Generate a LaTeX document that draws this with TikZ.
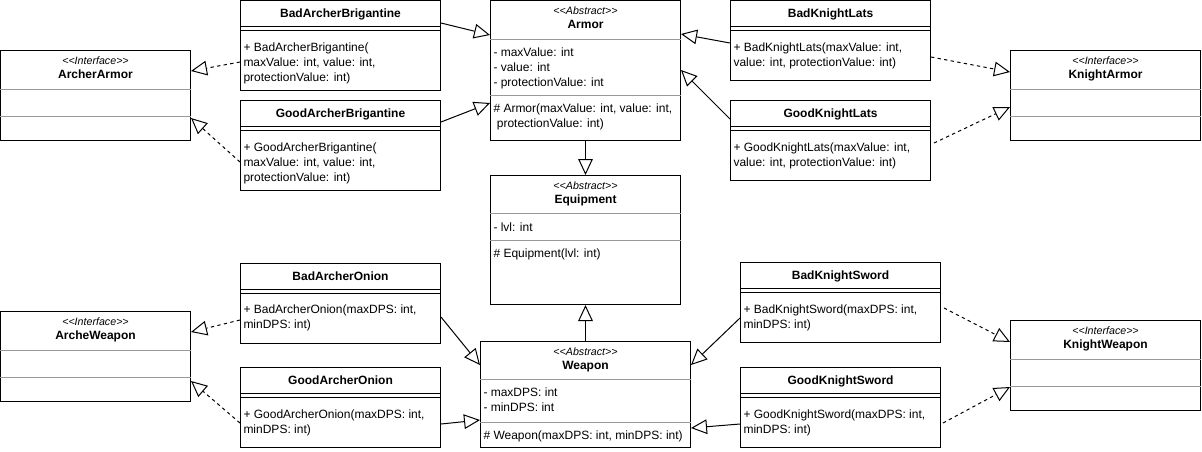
\documentclass[tikz,border=0pt]{standalone}
\usepackage{fontspec}
\setmainfont{Liberation Sans}
\usetikzlibrary{arrows.meta,calc}

\begin{document}
\begin{tikzpicture}[x=0.75pt, y=-0.75pt, line width=0.75pt,
  cls/.style = {draw, anchor=north west, inner sep=0pt, minimum width=150pt},
  ttl/.style = {inner sep=0pt, text height=6.5pt, text depth=0pt, font=\fontsize{9}{11.25}\selectfont\bfseries},
  ster/.style = {inner sep=0pt, text height=5.8pt, text depth=0pt, font=\fontsize{8}{10}\selectfont\itshape},
  mem/.style = {anchor=north west, inner sep=0pt, align=left, font=\fontsize{9}{11.25}\selectfont},
  divider/.style = {draw=black!40},
  inh/.style = {-{Triangle[open, length=12pt, width=11pt]}},
  real/.style = {inh, dash pattern=on 2.5pt off 2.5pt}
]
  \fill[white] (0,0) rectangle (1202,451);
  \useasboundingbox (0,0) rectangle (1202,451);

  % interfaces
  \foreach \n/\x/\y/\t in {ia/0/50/ArcherArmor, ka/1010/50/KnightArmor,
                           iw/0/311/ArcheWeapon, kw/1010/320/KnightWeapon} {
    \node[cls, minimum width=142.5pt, minimum height=67.5pt] (\n) at (\x,\y) {};
    \node[ster] (\n-s) at ($(\n.north)+(0,11)$) {<\kern0pt<Interface>\kern0pt>};
    \node[ttl] (\n-t) at ($(\n.north)+(0,24.5)$) {\t};
    \draw[divider] ($(\n.north west)+(0,39)$) -- ($(\n.north east)+(0,39)$);
    \draw[divider] ($(\n.north west)+(0,66)$) -- ($(\n.north east)+(0,66)$);
  }

  % concrete classes
  \foreach \n/\x/\y/\h/\t in {bab/240/0/90/BadArcherBrigantine, gab/240/100/90/GoodArcherBrigantine,
                              bkl/730/0/80/BadKnightLats, gkl/730/100/80/GoodKnightLats,
                              bao/240/263/80/BadArcherOnion, gao/240/367/80/GoodArcherOnion,
                              bks/740/262/80/BadKnightSword, gks/740/367/80/GoodKnightSword} {
    \node[cls, minimum height=\h*0.75pt] (\n) at (\x,\y) {};
    \node[ttl] (\n-t) at ($(\n.north)+(0,13)$) {\t};
    \draw ($(\n.north west)+(0,26)$) -- ($(\n.north east)+(0,26)$)
          ($(\n.north west)+(0,30)$) -- ($(\n.north east)+(0,30)$);
  }

  \node[mem] (bab-m) at ($(bab.north west)+(3,42)$) {+ BadArcherBrigantine(\\maxValue: int, value: int,\\protectionValue: int)};
  \node[mem] (gab-m) at ($(gab.north west)+(3,42)$) {+ GoodArcherBrigantine(\\maxValue: int, value: int,\\protectionValue: int)};
  \node[mem] (bkl-m) at ($(bkl.north west)+(3,42.5)$) {+ BadKnightLats(maxValue: int,\\value: int, protectionValue: int)};
  \node[mem] (gkl-m) at ($(gkl.north west)+(3,42.5)$) {+ GoodKnightLats(maxValue: int,\\value: int, protectionValue: int)};
  \node[mem] (bao-m) at ($(bao.north west)+(3,41.5)$) {+ BadArcherOnion(maxDPS: int,\\minDPS: int)};
  \node[mem] (gao-m) at ($(gao.north west)+(3,42.5)$) {+ GoodArcherOnion(maxDPS: int,\\minDPS: int)};
  \node[mem] (bks-m) at ($(bks.north west)+(3,42)$) {+ BadKnightSword(maxDPS: int,\\minDPS: int)};
  \node[mem] (gks-m) at ($(gks.north west)+(3,42.5)$) {+ GoodKnightSword(maxDPS: int,\\minDPS: int)};

  % abstract classes
  \node[cls, minimum width=142.5pt, minimum height=105pt] (armor) at (490,0) {};
  \node[ster] (armor-s) at ($(armor.north)+(0,11)$) {<\kern0pt<Abstract>\kern0pt>};
  \node[ttl] (armor-t) at ($(armor.north)+(0,24.5)$) {Armor};
  \draw[divider] ($(armor.north west)+(0,39)$) -- ($(armor.north east)+(0,39)$);
  \draw[divider] ($(armor.north west)+(0,95)$) -- ($(armor.north east)+(0,95)$);
  \node[mem] (armor-a) at ($(armor.north west)+(3,47.5)$) {- maxValue: int\\- value: int\\- protectionValue: int};
  \node[mem] (armor-o) at ($(armor.north west)+(3,103.5)$) {\# Armor(maxValue: int, value: int,\\\hspace*{2.5pt}protectionValue: int)};

  \node[cls, minimum width=142.5pt, minimum height=96.75pt] (equip) at (490,175) {};
  \node[ster] (equip-s) at ($(equip.north)+(0,10.5)$) {<\kern0pt<Abstract>\kern0pt>};
  \node[ttl] (equip-t) at ($(equip.north)+(0,24)$) {Equipment};
  \draw[divider] ($(equip.north west)+(0,38)$) -- ($(equip.north east)+(0,38)$);
  \draw[divider] ($(equip.north west)+(0,65)$) -- ($(equip.north east)+(0,65)$);
  \node[mem] (equip-a) at ($(equip.north west)+(3,47.5)$) {- lvl: int};
  \node[mem] (equip-o) at ($(equip.north west)+(3,73.5)$) {\# Equipment(lvl: int)};

  \node[cls, minimum width=157.5pt, minimum height=79.5pt] (weapon) at (480,341) {};
  \node[ster] (weapon-s) at ($(weapon.north)+(0,10.5)$) {<\kern0pt<Abstract>\kern0pt>};
  \node[ttl] (weapon-t) at ($(weapon.north)+(0,24)$) {Weapon};
  \draw[divider] ($(weapon.north west)+(0,38)$) -- ($(weapon.north east)+(0,38)$);
  \draw[divider] ($(weapon.north west)+(0,81)$) -- ($(weapon.north east)+(0,81)$);
  \node[mem] (weapon-a) at ($(weapon.north west)+(3,46.5)$) {- maxDPS: int\\- minDPS: int};
  \node[mem] (weapon-o) at ($(weapon.north west)+(3,89.5)$) {\# Weapon(maxDPS: int, minDPS: int)};

  % generalisation
  \draw[inh] ($(bab.north east)+(0,23)$) -- ($(armor.north west)+(0,35)$);
  \draw[inh] ($(gab.north east)+(0,22)$) -- ($(armor.north west)+(0,103)$);
  \draw[inh] ($(bkl.north west)+(0,43)$) -- ($(armor.north east)+(0,34)$);
  \draw[inh] ($(gkl.north west)+(0,19)$) -- ($(armor.north east)+(0,70)$);
  \draw[inh] (armor.south) -- (equip.north);
  \draw[inh] (weapon.north) -- (equip.south);
  \draw[inh] ($(bao.north east)+(0,54)$) -- ($(weapon.north west)+(0,24)$);
  \draw[inh] ($(gao.north east)+(0,57)$) -- ($(weapon.north west)+(0,79)$);
  \draw[inh] ($(bks.north west)+(0,56)$) -- ($(weapon.north east)+(0,24)$);
  \draw[inh] ($(gks.north west)+(0,57)$) -- ($(weapon.north east)+(0,87)$);

  % realisation
  \draw[real] ($(bab.north west)+(0,62)$) -- ($(ia.north east)+(0,21)$);
  \draw[real] ($(gab.north west)+(0,62)$) -- ($(ia.north east)+(0,68)$);
  \draw[real] ($(bkl.north east)+(0,57)$) -- ($(ka.north west)+(0,22)$);
  \draw[real] ($(gkl.north east)+(3,43)$) -- ($(ka.north west)+(0,57)$);
  \draw[real] ($(bao.north west)+(0,57)$) -- ($(iw.north east)+(0,21)$);
  \draw[real] ($(gao.north west)+(0,56)$) -- ($(iw.north east)+(0,70)$);
  \draw[real] ($(bks.north east)+(3,46)$) -- ($(kw.north west)+(0,22)$);
  \draw[real] ($(gks.north east)+(2,56)$) -- ($(kw.north west)+(0,67)$);
\end{tikzpicture}
\end{document}
